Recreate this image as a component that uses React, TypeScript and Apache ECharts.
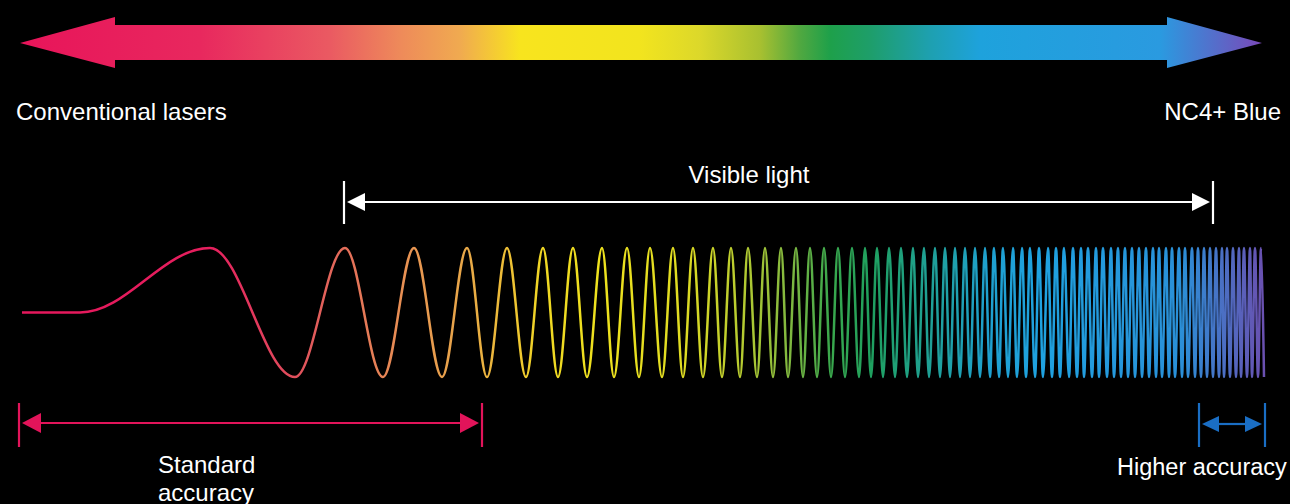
import React, { useEffect, useRef } from "react";
import * as echarts from "echarts";

// Wave: flat start (x, amplitude)
const riseX = [22, 80];
const riseY = [0, 0];
// Then alternating crests / troughs (x positions)
const crestX = [210, 345, 414, 467, 507, 543, 573, 602, 627, 650, 673, 693, 713, 731, 748, 765, 781, 796, 810, 824, 838, 852, 865, 877, 889, 901, 913, 924, 935, 945, 955, 965, 975, 985, 994, 1003, 1013, 1022, 1030, 1039, 1048, 1056, 1064, 1073, 1081, 1088, 1096, 1103, 1111, 1118, 1125, 1132, 1139, 1146, 1153, 1159, 1166, 1172, 1179, 1185, 1192, 1198, 1204, 1210, 1216, 1222, 1227, 1233, 1239, 1244, 1250, 1255, 1261];
const troughX = [295, 383, 442, 487, 526, 558, 587, 614, 639, 662, 683, 703, 722, 740, 757, 773, 788, 803, 817, 831, 845, 859, 871, 883, 895, 907, 918, 929, 940, 950, 960, 970, 980, 990, 999, 1008, 1017, 1026, 1035, 1043, 1052, 1060, 1069, 1077, 1084, 1092, 1099, 1107, 1114, 1121, 1128, 1135, 1142, 1149, 1156, 1162, 1169, 1175, 1182, 1188, 1195, 1201, 1207, 1213, 1219, 1224, 1230, 1236, 1241, 1247, 1252, 1258, 1264];

// Ranges (x) of the arrows / brackets
const spectrumRange = [20, 1262];
const visibleRange = [344, 1213];
const standardRange = [19, 482];
const higherRange = [1199, 1265];
const visibleLabelX = 749;

// Labels
const leftLabel = "Conventional lasers";
const rightLabel = "NC4+ Blue";
const visibleLabel = "Visible light";
const standardLabel = "Standard\naccuracy";
const higherLabel = "Higher accuracy";

// colour stops given at x positions
const waveColorX = [22, 210, 295, 345, 414, 467, 507, 543, 600, 680, 740, 790, 830, 870, 930, 990, 1040, 1180, 1264];
const waveColors = ["#e5175c", "#e61f5e", "#e0505c", "#e46e5a", "#e89652", "#e8a848", "#eebf36", "#f0d824", "#eee21e", "#e0dc22", "#b8cc30", "#80b840", "#3aa84c", "#1fa05e", "#1fa096", "#1fa0d0", "#1fa2e0", "#2a90d8", "#6a50b0"];
const arrowColorX = [20, 200, 330, 400, 460, 520, 640, 700, 760, 800, 830, 870, 930, 980, 1160, 1262];
const arrowColors = ["#e8145a", "#e8285e", "#ea5a62", "#ee8a5a", "#f0aa50", "#f8e41e", "#f2e41e", "#dcd82a", "#a8c030", "#50a840", "#1ea04a", "#1e9e6a", "#1ea0b0", "#1ea2dc", "#2a9ae0", "#7a48b8"];

const FONT = "'Liberation Sans', Arial, Helvetica, sans-serif";

const stops = (xs: number[], cs: string[], r: number[]) =>
  xs.map((x, i) => ({ offset: Math.min(1, Math.max(0, (x - r[0]) / (r[1] - r[0]))), color: cs[i] }));

export default function App() {
  const ref = useRef<HTMLDivElement>(null);
  useEffect(() => {
    document.body.style.margin = "0";
    document.body.style.background = "#000";
    const chart = echarts.init(ref.current!, null, { renderer: "svg" });
    const pts: number[][] = [
      ...riseX.map((x, i) => [x, riseY[i]]),
      ...crestX.map((x) => [x, 1]),
      ...troughX.map((x) => [x, -1]),
    ].sort((a, b) => a[0] - b[0]);

    const waveGrad = new echarts.graphic.LinearGradient(
      0, 0, 1, 0,
      stops(waveColorX, waveColors, [riseX[0], troughX[troughX.length - 1]])
    );

    chart.setOption({
      animation: false,
      backgroundColor: "#000",
      grid: { left: 0, right: 0, top: 248, height: 129 },
      xAxis: { type: "value", min: 0, max: 1290, show: false },
      yAxis: { type: "value", min: -1, max: 1, show: false },
      series: [
        {
          type: "line",
          data: pts,
          smooth: 0.36,
          smoothMonotone: "x",
          symbol: "none",
          clip: false,
          lineStyle: { width: 2.5, color: waveGrad },
        },
      ],
    });

    const px = (v: number) => chart.convertToPixel({ xAxisIndex: 0 }, v) as number;

    const bracket = (
      range: number[],
      y: number,
      tTop: number,
      tBot: number,
      color: string,
      headLen: number,
      headHalf: number,
      lw: number
    ) => {
      const a = px(range[0]);
      const b = px(range[1]);
      const la = a + 3;
      const lb = b - 3;
      return [
        { type: "line", shape: { x1: a, y1: tTop, x2: a, y2: tBot }, style: { stroke: color, lineWidth: lw } },
        { type: "line", shape: { x1: b, y1: tTop, x2: b, y2: tBot }, style: { stroke: color, lineWidth: lw } },
        { type: "line", shape: { x1: la + headLen - 2, y1: y, x2: lb - headLen + 2, y2: y }, style: { stroke: color, lineWidth: lw } },
        { type: "polygon", shape: { points: [[la, y], [la + headLen, y - headHalf], [la + headLen, y + headHalf]] }, style: { fill: color } },
        { type: "polygon", shape: { points: [[lb, y], [lb - headLen, y - headHalf], [lb - headLen, y + headHalf]] }, style: { fill: color } },
      ];
    };

    const s0 = px(spectrumRange[0]);
    const s1 = px(spectrumRange[1]);
    const headW = 95;
    const arrow = {
      type: "polygon",
      shape: {
        points: [
          [s0, 43], [s0 + headW, 17], [s0 + headW, 25], [s1 - headW, 25], [s1 - headW, 17],
          [s1, 43], [s1 - headW, 68], [s1 - headW, 60], [s0 + headW, 60], [s0 + headW, 68],
        ],
      },
      style: { fill: new echarts.graphic.LinearGradient(0, 0, 1, 0, stops(arrowColorX, arrowColors, spectrumRange)) },
    };

    const txt = (text: string, x: number, y: number, align: string, extra: any = {}) => ({
      type: "text",
      x,
      y,
      style: {
        text,
        fill: "#ffffff",
        fontSize: 24,
        fontFamily: FONT,
        align,
        verticalAlign: "middle",
        ...extra,
      },
    });

    chart.setOption({
      graphic: [
        arrow,
        txt(leftLabel, 16, 111, "left"),
        txt(rightLabel, 1281, 111, "right"),
        txt(visibleLabel, px(visibleLabelX), 174, "center"),
        ...bracket(visibleRange, 202, 181, 224, "#ffffff", 18, 9, 2.2),
        ...bracket(standardRange, 423, 403, 447, "#e2145a", 19, 10, 2.2),
        ...bracket(higherRange, 424, 403, 447, "#1a6ec4", 17, 8, 2.2),
        txt(standardLabel, 158, 478, "left", { lineHeight: 28 }),
        txt(higherLabel, 1117, 467, "left", { fontSize: 23.5 }),
      ],
    });

    return () => chart.dispose();
  }, []);
  return (
    <div
      ref={ref}
      style={{ position: "fixed", left: 0, top: 0, width: 1290, height: 504, background: "#000" }}
    />
  );
}
